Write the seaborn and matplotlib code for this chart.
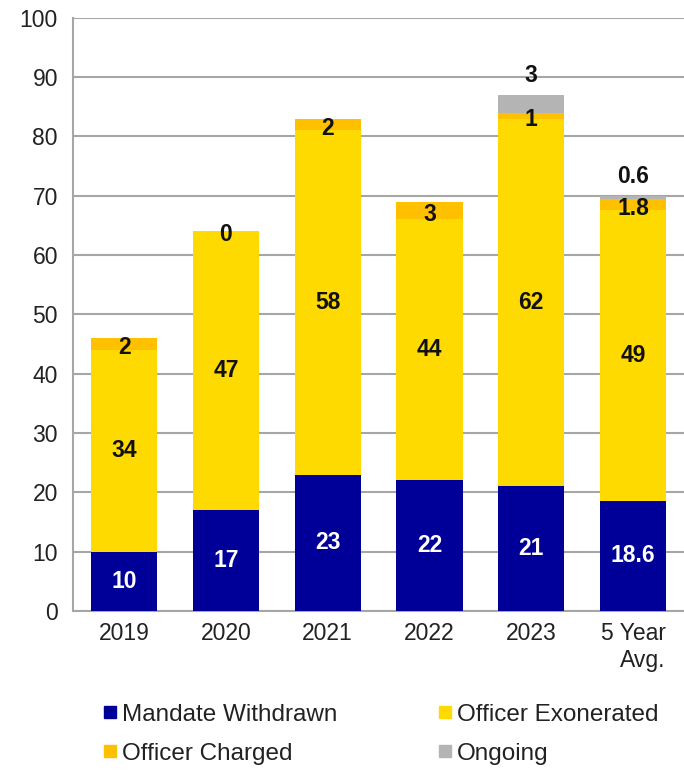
import numpy as np
import pandas as pd
import matplotlib.pyplot as plt
import seaborn as sns
from matplotlib.lines import Line2D

years = ['2019', '2020', '2021', '2022', '2023', '5 Year\nAvg.']
mandate = [10, 17, 23, 22, 21, 18.6]
exonerated = [34, 47, 58, 44, 62, 49]
charged = [2, 0, 2, 3, 1, 1.8]
ongoing = [0, 0, 0, 0, 3, 0.6]

mandate_lbl = ['10', '17', '23', '22', '21', '18.6']
exon_lbl = ['34', '47', '58', '44', '62', '49']
charged_lbl = ['2', '0', '2', '3', '1', '1.8']
ongoing_lbl = ['', '', '', '', '3', '0.6']

sns.set_style('white')
plt.rcParams['font.family'] = ['Liberation Sans', 'DejaVu Sans']

fig = plt.figure(figsize=(6.84, 7.71), dpi=100)
ax = fig.add_axes([0.107, 0.2075, 0.893, 0.7695])

series = [(mandate, '#000099', 'Mandate Withdrawn'),
          (exonerated, '#FFDA00', 'Officer Exonerated'),
          (charged, '#FFC000', 'Officer Charged'),
          (ongoing, '#B4B4B4', 'Ongoing')]

bottom = np.zeros(len(years))
for vals, col, name in series:
    sns.barplot(x=years, y=vals, bottom=bottom, color=col, width=0.65,
                order=years, ax=ax, zorder=3, saturation=1, linewidth=0)
    bottom = bottom + np.array(vals)

x = np.arange(len(years))
m = np.array(mandate)
e = np.array(exonerated)
c = np.array(charged)
tot = m + e + c + np.array(ongoing)
fs = 16.5
for i in range(len(years)):
    ax.text(x[i], m[i] / 2, mandate_lbl[i], ha='center', va='center',
            color='white', fontsize=fs, fontweight='bold', zorder=5)
    ax.text(x[i], m[i] + e[i] / 2, exon_lbl[i], ha='center', va='center',
            color='#111111', fontsize=fs, fontweight='bold', zorder=5)
    ax.text(x[i], m[i] + e[i] + c[i] / 2 - 0.6, charged_lbl[i], ha='center', va='center',
            color='#111111', fontsize=fs, fontweight='bold', zorder=5)
    if ongoing_lbl[i]:
        ax.text(x[i], tot[i] + 3.3, ongoing_lbl[i], ha='center', va='center',
                color='#111111', fontsize=fs, fontweight='bold', zorder=5)

ax.set_ylim(0, 100)
ax.set_xlim(-0.5, 5.5)
ax.set_yticks(range(0, 101, 10))
ax.yaxis.grid(True, color='#A6A6A6', linewidth=1.5, zorder=0)
ax.xaxis.grid(False)
ax.tick_params(axis='both', labelsize=16.5, colors='#222222', length=0)
ax.tick_params(axis='y', pad=11)
ax.tick_params(axis='x', pad=8)
for lab in ax.get_xticklabels():
    lab.set_multialignment('right')
for s in ['top', 'right']:
    ax.spines[s].set_visible(False)
ax.spines['left'].set_color('#A6A6A6')
ax.spines['left'].set_linewidth(1.5)
ax.spines['bottom'].set_color('#A6A6A6')
ax.spines['bottom'].set_linewidth(1.5)
ax.set_xlabel('')
ax.set_ylabel('')

hmap = {name: col for _, col, name in series}
order = ['Mandate Withdrawn', 'Officer Charged', 'Officer Exonerated', 'Ongoing']
handles = [Line2D([], [], marker='s', linestyle='none', markersize=9,
                  markerfacecolor=hmap[n], markeredgecolor=hmap[n], label=n)
           for n in order]
fig.legend(handles=handles, loc='lower left', bbox_to_anchor=(0.115, -0.02),
           ncol=2, frameon=False, fontsize=17.5, handletextpad=0.1,
           columnspacing=4.0, labelspacing=0.7, handlelength=0.8,
           labelcolor='#222222')

fig.savefig('out.png', dpi=100)
